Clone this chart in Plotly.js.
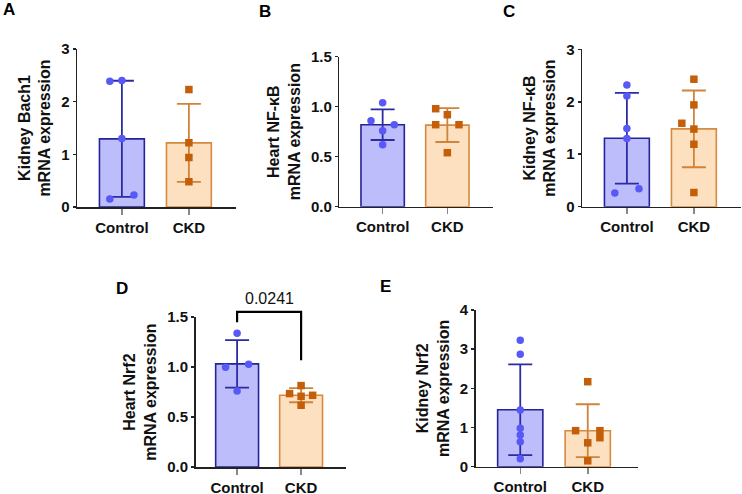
<!DOCTYPE html>
<html><head><meta charset="utf-8">
<script src="https://cdn.plot.ly/plotly-3.0.1.min.js"></script>
<style>html,body{margin:0;padding:0;background:#fff}#chart{width:742px;height:494px}</style>
</head><body><div id="chart"></div>
<script>
// ---- data ----
const groups = ['Control', 'CKD'];
const aControl = [2.39, 2.40, 1.30, 0.15, 0.23];
const aCKD     = [2.23, 1.22, 0.94, 0.48];
const bControl = [1.04, 0.86, 0.82, 0.76, 0.62];
const bCKD     = [0.98, 0.92, 0.82, 0.82, 0.54];
const cControl = [2.32, 2.11, 1.49, 1.30, 0.26, 0.34];
const cCKD     = [2.43, 1.94, 1.59, 1.48, 1.19, 0.27];
const dControl = [1.34, 1.00, 1.03, 0.76];
const dCKD     = [0.815, 0.735, 0.718, 0.708, 0.618];
const eControl = [3.23, 2.87, 1.45, 0.98, 0.81, 0.64, 0.20];
const eCKD     = [2.17, 0.92, 0.92, 0.74, 0.61, 0.15];
const yTitles = ['Kidney Bach1<br>mRNA expression', 'Heart NF-κB<br>mRNA expression',
                 'Kidney NF-κB<br>mRNA expression', 'Heart Nrf2<br>mRNA expression',
                 'Kidney Nrf2<br>mRNA expression'];
const panelLetters = ['A', 'B', 'C', 'D', 'E'];
const pValueD = '0.0241';

// scatter-dot side placement (-1 left, 0 centre, 1 right), as in the reference
const aControlSide = [-1, 0, 0, -1, 1], aCKDSide = [0, 0, 0, 0];
const bControlSide = [0, -1, 1, 0, 0],  bCKDSide = [-1, 0, -1, 1, 0];
const cControlSide = [0, 0, 0, 0, -1, 1], cCKDSide = [0, 0, -1, 0, 0, 0];
const dControlSide = [0, -1, 1, 0],     dCKDSide = [0, -1, 1, 0, 0];
const eControlSide = [0, 0, 0, 0, 0, 0, 0], eCKDSide = [0, -1, 1, 1, 0, 0];

// ---- styling / layout ----
const W = 742, H = 494;
const FONT = 'Arial, "Liberation Sans", Helvetica, sans-serif';
const ctrl = {fill: '#bdbdfb', line: '#23239a', err: '#2b2ba3', dot: '#5858f6', sym: 'circle'};
const ckd  = {fill: '#fde0c0', line: '#d58a3f', err: '#d0833a', dot: '#c45e08', sym: 'square'};
const SPREAD = 0.18;

const panels = [
  {c: aControl, k: aCKD, cs: aControlSide, ks: aCKDSide, px: [77, 67],  py: [49, 207],   xr: [-0.67, 1.7], yr: [0, 3],   dt: 1,   fmt: 'd'},
  {c: bControl, k: bCKD, cs: bControlSide, ks: bCKDSide, px: [339.3, 64.7], py: [56.7, 206.7], xr: [-0.67, 1.7], yr: [0, 1.5], dt: 0.5, fmt: '.1f'},
  {c: cControl, k: cCKD, cs: cControlSide, ks: cCKDSide, px: [582, 67], py: [49.3, 206.7], xr: [-0.67, 1.7], yr: [0, 3],   dt: 1,   fmt: 'd'},
  {c: dControl, k: dCKD, cs: dControlSide, ks: dCKDSide, px: [195.5, 64], py: [317.2, 467], xr: [-0.65, 1.7], yr: [0, 1.5], dt: 0.5, fmt: '.1f'},
  {c: eControl, k: eCKD, cs: eControlSide, ks: eCKDSide, px: [475.7, 67.5], py: [310, 466.7], xr: [-0.66, 1.75], yr: [0, 4],  dt: 1,   fmt: 'd'}
];

const mean = a => a.reduce((s, v) => s + v, 0) / a.length;
const sd = a => { const m = mean(a); return Math.sqrt(a.reduce((s, v) => s + (v - m) ** 2, 0) / (a.length - 1)); };

const traces = [];
const layout = {
  width: W, height: H, margin: {l: 0, r: 0, t: 0, b: 0},
  paper_bgcolor: '#fff', plot_bgcolor: 'rgba(0,0,0,0)', showlegend: false,
  barmode: 'overlay', font: {family: FONT, color: '#111'},
  annotations: [], shapes: []
};

panels.forEach((p, i) => {
  const n = i === 0 ? '' : String(i + 1);
  const xa = 'x' + n, ya = 'y' + n;
  const xLeft = p.px[0], xRight = p.px[0] + p.px[1] * (p.xr[1] - p.xr[0]);
  [[p.c, p.cs, ctrl, 0], [p.k, p.ks, ckd, 1]].forEach(([vals, side, st, xi]) => {
    traces.push({
      type: 'bar', x: [xi], y: [mean(vals)], width: 0.67, xaxis: xa, yaxis: ya,
      marker: {color: st.fill, line: {color: st.line, width: 1.6}},
      error_y: {type: 'data', array: [sd(vals)], visible: true, color: st.err, thickness: 1.8, width: 12},
      hoverinfo: 'skip'
    });
    traces.push({
      type: 'scatter', mode: 'markers', xaxis: xa, yaxis: ya,
      x: side.map(s => xi + s * SPREAD), y: vals, cliponaxis: false,
      marker: {symbol: st.sym, color: st.dot, size: 7.5, line: {width: 0}},
      hoverinfo: 'skip'
    });
  });
  layout['xaxis' + n] = {
    domain: [xLeft / W, xRight / W], anchor: ya, range: p.xr, fixedrange: true,
    tickvals: [0, 1], ticktext: groups, showgrid: false, zeroline: false,
    showline: true, linecolor: '#222', linewidth: 1.5,
    ticks: 'outside', ticklen: 6, tickwidth: 1.5, tickcolor: '#888',
    tickfont: {family: FONT, size: 15, weight: 'bold', color: '#111'}
  };
  layout['yaxis' + n] = {
    domain: [1 - p.py[1] / H, 1 - p.py[0] / H], anchor: xa, range: p.yr, fixedrange: true,
    dtick: p.dt, tick0: 0, tickformat: p.fmt, showgrid: false, zeroline: false,
    showline: true, linecolor: '#222', linewidth: 1.5,
    ticks: 'outside', ticklen: 3, tickwidth: 1.5, tickcolor: '#222',
    tickfont: {family: FONT, size: 15, weight: 'bold', color: '#111'},
    title: {text: yTitles[i], standoff: 6, font: {family: FONT, size: 16, weight: 'bold', color: '#111'}}
  };
});

// panel letters
const letterPos = [[9, 10], [265, 11], [509, 11], [122, 288], [385, 286]];
panelLetters.forEach((t, i) => layout.annotations.push({
  text: t, xref: 'paper', yref: 'paper', x: letterPos[i][0] / W, y: 1 - letterPos[i][1] / H,
  xanchor: 'center', yanchor: 'middle', showarrow: false,
  font: {family: FONT, size: 17, weight: 'bold', color: '#000'}
}));

// significance bracket in panel D, placed through the D axes' domain coordinates
const pD = panels[3];
const fx = v => (v - pD.xr[0]) / (pD.xr[1] - pD.xr[0]);
const fy = v => (v - pD.yr[0]) / (pD.yr[1] - pD.yr[0]);
const brTop = 1.553, brLeft = 1.449, brRight = 1.068;
layout.shapes.push({
  type: 'path', xref: 'x4 domain', yref: 'y4 domain',
  path: `M${fx(0)},${fy(brLeft)} L${fx(0)},${fy(brTop)} L${fx(1)},${fy(brTop)} L${fx(1)},${fy(brRight)}`,
  line: {color: '#000', width: 2.2}
});
layout.annotations.push({
  text: pValueD, xref: 'x4 domain', yref: 'y4 domain', x: fx(0.5), y: fy(brTop),
  xanchor: 'center', yanchor: 'bottom', yshift: 3, showarrow: false,
  font: {family: FONT, size: 16, color: '#111'}
});

Plotly.newPlot('chart', traces, layout, {staticPlot: true, displayModeBar: false});
</script>
</body></html>
